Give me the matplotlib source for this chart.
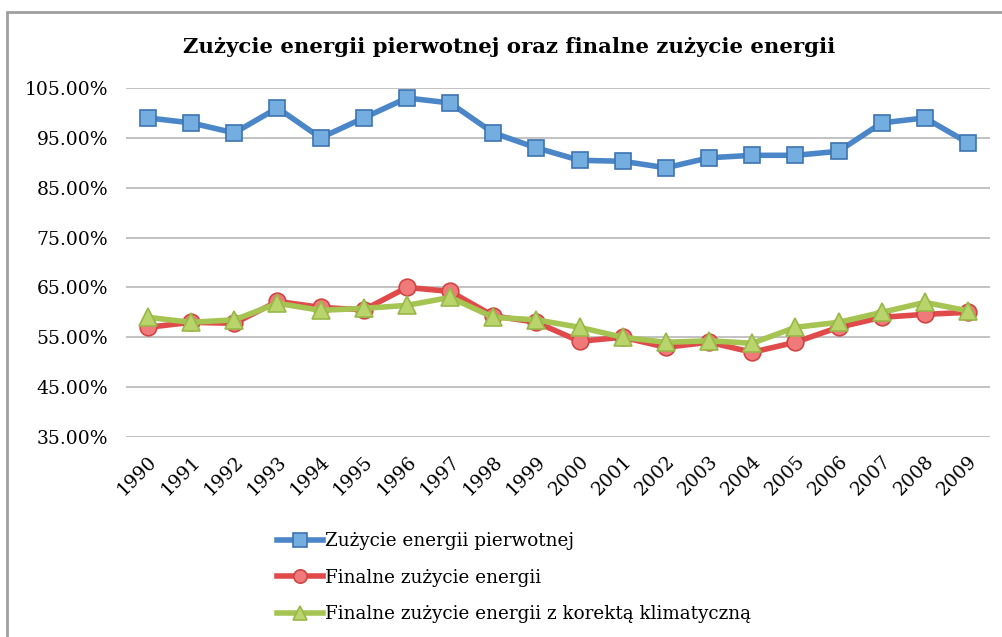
import matplotlib
matplotlib.use("Agg")
import matplotlib.pyplot as plt
from matplotlib.patches import Rectangle

years = [str(y) for y in range(1990, 2010)]
primary = [99, 98, 96, 101, 95, 99, 103, 102, 96, 93, 90.5, 90.3, 89, 91, 91.5, 91.5, 92.3, 98, 99, 94]
final = [57, 58, 57.8, 62.2, 61, 60.5, 65, 64.2, 59.3, 58, 54.2, 55, 53, 54, 52, 54, 57, 59, 59.6, 60]
final_corr = [59, 58, 58.5, 61.8, 60.4, 60.8, 61.4, 63, 59, 58.5, 57, 55, 54, 54.3, 53.8, 57, 58, 60, 62, 60.3]
yticks = [35, 45, 55, 65, 75, 85, 95, 105]

title = "Zużycie energii pierwotnej oraz finalne zużycie energii"
labels = ["Zużycie energii pierwotnej", "Finalne zużycie energii",
          "Finalne zużycie energii z korektą klimatyczną"]

W, H = 1002, 637
plt.rcParams['font.family'] = ['DejaVu Serif']
fig = plt.figure(figsize=(W / 100, H / 100), dpi=100)

# outer frame
fig.patches.append(Rectangle((7 / W, -0.01), 1.0, 1 - 12 / H + 0.01, transform=fig.transFigure,
                             fill=False, edgecolor="#a0a0a0", linewidth=2))

left, right = 126.4 / W, 989.6 / W
top, bottom = 1 - 88 / H, 1 - 437 / H
ax = fig.add_axes([left, bottom, right - left, top - bottom])

x = list(range(len(years)))

ax.plot(x, primary, color="#4a86c8", lw=4.0, marker="s", ms=12,
        mfc="#74aee0", mec="#3d74b0", mew=1.2, label=labels[0], zorder=3)
ax.plot(x, final, color="#e04a4a", lw=4.0, marker="o", ms=12,
        mfc="#f07a7a", mec="#d04444", mew=1.2, label=labels[1], zorder=4)
ax.plot(x, final_corr, color="#a6c452", lw=4.0, marker="^", ms=12.5,
        mfc="#b9d46a", mec="#98b848", mew=1.2, label=labels[2], zorder=5)

ax.set_xlim(-0.5, len(years) - 0.5)
ax.set_ylim(35, 105)
ax.set_yticks(yticks)
ax.set_yticklabels([f"{v:.2f}%" for v in yticks], fontsize=13.5)
ax.set_xticks(x)
ax.set_xticklabels(years, rotation=45, ha="right", rotation_mode="anchor", fontsize=13.5)
ax.tick_params(axis="both", length=0)
ax.tick_params(axis="y", pad=13)
ax.tick_params(axis="x", pad=11)
ax.grid(axis="y", color="#b8b8b8", lw=1.2)
ax.set_axisbelow(True)
for s in ax.spines.values():
    s.set_visible(False)

fig.text(509 / W, 1 - 47 / H, title, ha="center", va="center", fontsize=15.3, fontweight="bold")

fig.legend(loc="upper left", bbox_to_anchor=(277 / W, 1 - 532 / H), frameon=False,
           fontsize=13.2, handlelength=2.5, handletextpad=0.1, labelspacing=1.02,
           borderaxespad=0, borderpad=0, markerscale=0.8)

fig.savefig("out.png", dpi=100, facecolor="white")
